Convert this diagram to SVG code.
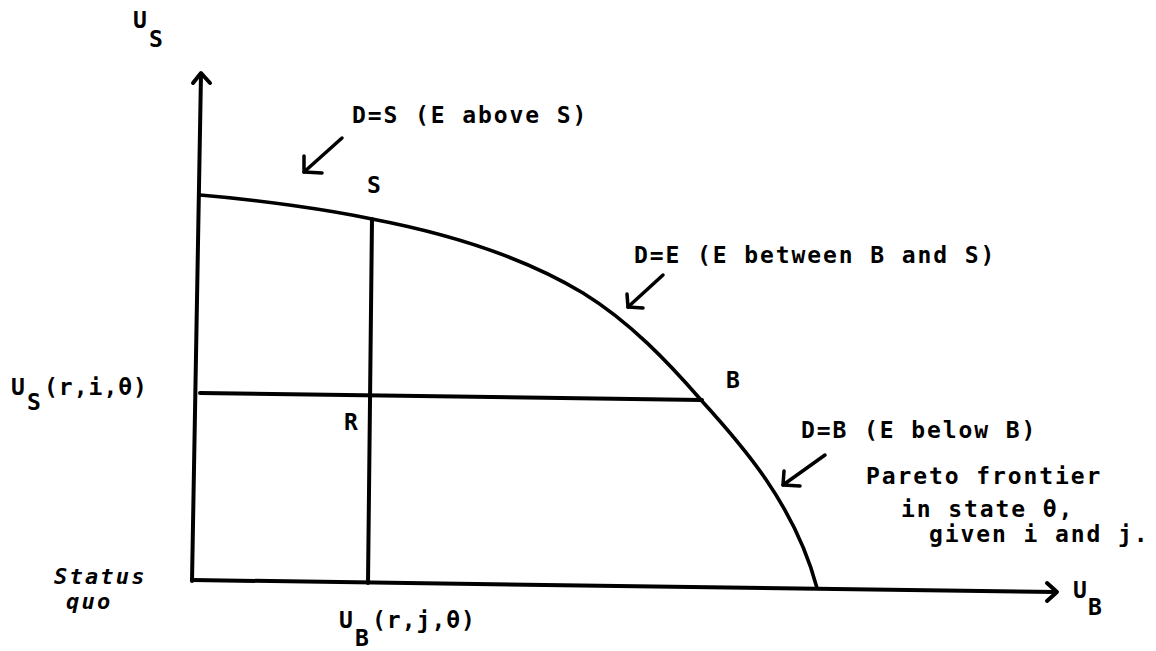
<svg xmlns="http://www.w3.org/2000/svg" width="1156" height="651" viewBox="0 0 1156 651">
<style>
  .t { font-family: "DejaVu Sans Mono", "Liberation Mono", monospace; font-size: 23px; font-weight: bold; letter-spacing: 1.9px; fill: #000; }
  .it { font-family: "DejaVu Sans Mono", "Liberation Mono", monospace; font-size: 22px; font-style: italic; font-weight: bold; letter-spacing: 2.2px; fill: #000; }
  .ln { fill: none; stroke: #000; stroke-width: 4; stroke-linecap: round; stroke-linejoin: round; }
  .cv { fill: none; stroke: #000; stroke-width: 3.6; stroke-linecap: round; stroke-linejoin: round; }
  .ar { fill: none; stroke: #000; stroke-width: 3.5; stroke-linecap: round; stroke-linejoin: round; }
</style>
<rect width="1156" height="651" fill="#fff"/>
<g id="axes">
  <path class="ln" d="M192,581 L201,74"/>
  <path class="ln" d="M193,83 L201,73 L210,83"/>
  <path class="ln" d="M192,580 L1056,592"/>
  <path class="ln" d="M1047,583 L1057,592 L1047,601"/>
</g>
<g id="frontier">
  <path class="cv" d="M200,195 C260,200 330,210 372,219 C440,232 520,255 583,293 C630,322 668,362 701,400 C742,445 795,505 817,588"/>
</g>
<g id="reference-lines">
  <path class="ln" d="M372,219 L368,583"/>
  <path class="ln" d="M200,393 L702,400"/>
</g>
<g id="connectors">
  <path class="ar" d="M342,138 L304,172"/>
  <path class="ar" d="M304,156 L304,172 L322,173"/>
  <path class="ar" d="M663,275 L628,307"/>
  <path class="ar" d="M627,294 L628,307 L643,308"/>
  <path class="ar" d="M825,455 L783,485"/>
  <path class="ar" d="M784,471 L783,485 L800,486"/>
</g>
<g id="axis-labels">
  <text class="t" x="133" y="28">U</text>
  <text class="t" x="149" y="47">S</text>
  <text class="t" x="1073" y="598">U</text>
  <text class="t" x="1088" y="615">B</text>
</g>
<g id="point-labels">
  <text class="t" x="367" y="193">S</text>
  <text class="t" x="726" y="388">B</text>
  <text class="t" x="344" y="430">R</text>
</g>
<g id="us-value">
  <text class="t" x="11" y="395">U</text>
  <text class="t" x="27" y="410">S</text>
  <text class="t" x="44" y="395" style="letter-spacing:1px">(r,i,θ)</text>
</g>
<g id="ub-value">
  <text class="t" x="339" y="628">U</text>
  <text class="t" x="355" y="646">B</text>
  <text class="t" x="372" y="628" style="letter-spacing:1px">(r,j,θ)</text>
</g>
<g id="status-quo">
  <text class="it" x="54" y="584">Status</text>
  <text class="it" x="66" y="609">quo</text>
</g>
<g id="annotations">
  <text class="t" x="352" y="123">D=S (E above S)</text>
  <text class="t" x="634" y="263">D=E (E between B and S)</text>
  <text class="t" x="801" y="438">D=B (E below B)</text>
</g>
<g id="frontier-label">
  <text class="t" x="866" y="484">Pareto frontier</text>
  <text class="t" x="901" y="517">in state θ,</text>
  <text class="t" x="929" y="542">given i and j.</text>
</g>
</svg>
